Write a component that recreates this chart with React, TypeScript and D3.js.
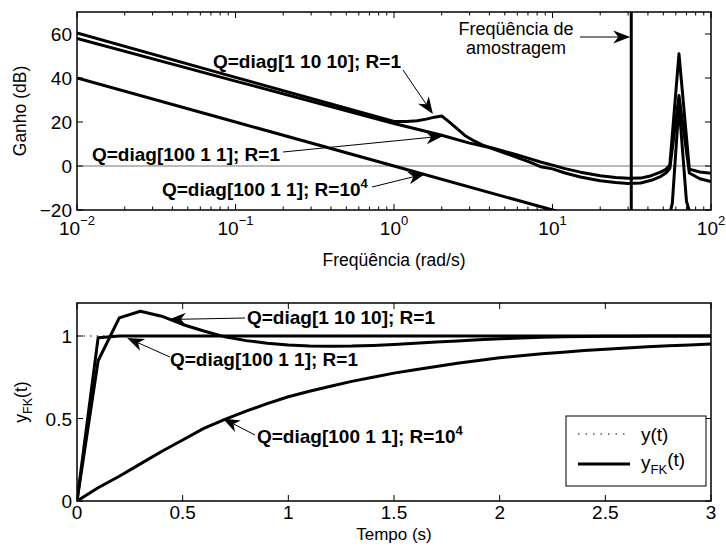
import React from 'react';
import * as d3 from 'd3';

// ---------- Data: Bode magnitude (top) ----------
const freqA = [0.01, 0.1, 1, 1.2, 1.4, 1.6, 1.8, 2.0, 2.2, 2.5, 2.8, 3.2, 3.6, 4, 5, 6, 7, 8.4, 10, 12, 15, 20, 25, 30, 36, 42, 48, 52, 55, 62.8, 73, 85, 100];
const gainA = [60.5, 40.3, 20.2, 20.2, 20.6, 21.3, 22.2, 22.7, 20.4, 17, 13.9, 11.4, 9.6, 8.5, 6.6, 5.0, 3.6, 1.8, 0.4, -1.2, -2.8, -4.4, -5.2, -5.6, -5.5, -4.4, -2.8, -1.5, 0.5, 51, -1.4, -2.7, -3.3];

const freqB = [0.01, 0.1, 1, 2, 3, 4, 5, 6, 7, 8.4, 10, 12, 15, 20, 25, 30, 36, 42, 48, 52, 55, 62.8, 73, 85, 100];
const gainB = [58, 38.6, 19.3, 14, 10.4, 8.4, 5.9, 3.8, 2.1, -0.3, -1.3, -3.2, -5.0, -6.7, -7.5, -7.9, -7.7, -6.5, -4.8, -3.2, -1.0, 32, -3.2, -5.8, -7.1];

const freqC = [0.01, 0.1, 1, 10, 20, 50, 57, 62.8, 70, 80, 100];
const gainC = [40, 20, 0, -20, -26, -34, -17, 28, -16, -30, -36];

const samplingFreq = 31.4;
const topYTicks = [-20, 0, 20, 40, 60];
const topXTicks = [0.01, 0.1, 1, 10, 100];
const topXTickExp = ['−2', '−1', '0', '1', '2'];

// ---------- Data: step responses (bottom) ----------
const time = [0, 0.1, 0.2, 0.3, 0.4, 0.5, 0.6, 0.7, 0.8, 0.9, 1.0, 1.1, 1.2, 1.3, 1.4, 1.5, 1.6, 1.7, 1.8, 1.9, 2.0, 2.1, 2.2, 2.3, 2.4, 2.5, 2.6, 2.7, 2.8, 2.9, 3.0];
const yQ1 = [0, 0.85, 1.11, 1.15, 1.12, 1.07, 1.03, 0.995, 0.972, 0.956, 0.946, 0.94, 0.938, 0.939, 0.943, 0.949, 0.956, 0.963, 0.97, 0.977, 0.983, 0.988, 0.992, 0.995, 0.997, 0.998, 0.999, 1.0, 1.0, 1.0, 1.0];
const yQ2 = [0, 0.99, 1, 1, 1, 1, 1, 1, 1, 1, 1, 1, 1, 1, 1, 1, 1, 1, 1, 1, 1, 1, 1, 1, 1, 1, 1, 1, 1, 1, 1];
const yQ3 = [0, 0.08, 0.15, 0.225, 0.3, 0.37, 0.44, 0.495, 0.545, 0.59, 0.632, 0.665, 0.695, 0.725, 0.75, 0.775, 0.795, 0.815, 0.835, 0.852, 0.868, 0.88, 0.892, 0.902, 0.912, 0.92, 0.928, 0.935, 0.941, 0.946, 0.951];
const refTime = [0, 3];
const refY = [1, 1];
const botXTicks = [0, 0.5, 1, 1.5, 2, 2.5, 3];
const botYTicks = [0, 0.5, 1];

const FONT = "Arial, 'Liberation Sans', Helvetica, sans-serif";

const xTop = d3.scaleLog().domain([0.01, 100]).range([77, 711]);
const yTop = d3.scaleLinear().domain([-20, 70]).range([210, 12]);
const xBot = d3.scaleLinear().domain([0, 3]).range([77, 711]);
const yBot = d3.scaleLinear().domain([0, 1.2]).range([501, 303]);

function Arrow({ x1, y1, x2, y2 }: { x1: number; y1: number; x2: number; y2: number }) {
  const ang = Math.atan2(y2 - y1, x2 - x1);
  const L = 17, hw = 6.5, notch = 12;
  const rot = (px: number, py: number) => [
    x2 + px * Math.cos(ang) - py * Math.sin(ang),
    y2 + px * Math.sin(ang) + py * Math.cos(ang),
  ];
  const p = [rot(0, 0), rot(-L, -hw), rot(-notch, 0), rot(-L, hw)];
  const n = rot(-notch, 0);
  return (
    <g>
      <line x1={x1} y1={y1} x2={n[0]} y2={n[1]} stroke="#000" strokeWidth={1} />
      <path d={`M${p.map((q) => q.join(',')).join('L')}Z`} fill="#000" />
    </g>
  );
}

export default function App() {
  const lineTop = (fs: number[], gs: number[]) =>
    d3.line<number>().x((_, i) => xTop(fs[i])).y((_, i) => yTop(gs[i])).curve(d3.curveLinear)(fs) || '';
  const lineBot = (ts: number[], ys: number[]) =>
    d3.line<number>().x((_, i) => xBot(ts[i])).y((_, i) => yBot(ys[i])).curve(d3.curveLinear)(ts) || '';

  const [tx0, tx1] = xTop.range();
  const [ty0, ty1] = yTop.range();
  const [bx0, bx1] = xBot.range();
  const [by0, by1] = yBot.range();

  const minorTicks: number[] = [];
  for (let e = -2; e < 2; e++) for (let k = 2; k <= 9; k++) minorTicks.push(k * Math.pow(10, e));

  const tickFs = 19;
  const labFs = 17.5;
  const annFs = 19;
  const txtFs = 18;

  return (
    <svg width={726} height={552} style={{ position: 'absolute', left: 0, top: 0, background: '#fff' }} fontFamily={FONT}>
      <defs>
        <clipPath id="clipTop"><rect x={tx0} y={ty1} width={tx1 - tx0} height={ty0 - ty1} /></clipPath>
        <clipPath id="clipBot"><rect x={bx0} y={by1} width={bx1 - bx0} height={by0 - by1} /></clipPath>
      </defs>
      <rect width={726} height={552} fill="#fff" />

      {/* ===== TOP PLOT ===== */}
      <line x1={tx0} x2={tx1} y1={yTop(0)} y2={yTop(0)} stroke="#777" strokeWidth={1.2} />
      <g clipPath="url(#clipTop)" fill="none" stroke="#000" strokeWidth={3} strokeLinejoin="round">
        <path d={lineTop(freqA, gainA)} />
        <path d={lineTop(freqB, gainB)} />
        <path d={lineTop(freqC, gainC)} />
      </g>
      <line x1={xTop(samplingFreq)} x2={xTop(samplingFreq)} y1={ty1} y2={ty0} stroke="#000" strokeWidth={3} />
      <g stroke="#000" strokeWidth={1}>
        {topXTicks.map((t) => (
          <g key={'mx' + t}>
            <line x1={xTop(t)} x2={xTop(t)} y1={ty0} y2={ty0 - 6} />
            <line x1={xTop(t)} x2={xTop(t)} y1={ty1} y2={ty1 + 6} />
          </g>
        ))}
        {minorTicks.map((t) => (
          <g key={'mn' + t}>
            <line x1={xTop(t)} x2={xTop(t)} y1={ty0} y2={ty0 - 3.5} />
            <line x1={xTop(t)} x2={xTop(t)} y1={ty1} y2={ty1 + 3.5} />
          </g>
        ))}
        {topYTicks.map((t) => (
          <g key={'ty' + t}>
            <line x1={tx0} x2={tx0 + 6} y1={yTop(t)} y2={yTop(t)} />
            <line x1={tx1} x2={tx1 - 6} y1={yTop(t)} y2={yTop(t)} />
          </g>
        ))}
      </g>
      <rect x={tx0} y={ty1} width={tx1 - tx0} height={ty0 - ty1} fill="none" stroke="#000" strokeWidth={1.5} />
      {topYTicks.map((t) => (
        <text key={'tyl' + t} x={tx0 - 5} y={yTop(t) + 7} fontSize={tickFs} textAnchor="end">{t < 0 ? '−' + Math.abs(t) : t}</text>
      ))}
      {topXTicks.map((t, i) => (
        <text key={'txl' + t} x={xTop(t)} y={235} fontSize={tickFs} textAnchor="middle">
          10<tspan dy={-10} fontSize={13}>{topXTickExp[i]}</tspan>
        </text>
      ))}
      <text x={(tx0 + tx1) / 2} y={266} fontSize={labFs} textAnchor="middle">Freqüência (rad/s)</text>
      <text transform={`translate(26,${(ty0 + ty1) / 2}) rotate(-90)`} fontSize={labFs} textAnchor="middle">Ganho (dB)</text>

      <g fontSize={annFs} fontWeight="bold">
        <text x={213} y={68}>Q=diag[1 10 10]; R=1</text>
        <text x={92} y={161}>Q=diag[100 1 1]; R=1</text>
        <text x={162} y={196}>Q=diag[100 1 1]; R=10<tspan dy={-8} fontSize={13}>4</tspan></text>
      </g>
      <Arrow x1={403} y1={70} x2={xTop(1.76)} y2={yTop(23.6)} />
      <Arrow x1={283} y1={152} x2={xTop(2.04)} y2={yTop(13.6)} />
      <Arrow x1={372} y1={187} x2={xTop(1.57)} y2={yTop(-3.6)} />
      <g fontSize={txtFs} textAnchor="middle">
        <text x={516} y={35}>Freqüência de</text>
        <text x={516} y={54}>amostragem</text>
      </g>
      <Arrow x1={580} y1={37} x2={xTop(samplingFreq) - 1} y2={37} />

      {/* ===== BOTTOM PLOT ===== */}
      <g clipPath="url(#clipBot)" fill="none" stroke="#000" strokeLinejoin="round">
        <path d={lineBot(refTime, refY)} strokeWidth={1.2} strokeDasharray="1.5,5" />
        <path d={lineBot(time, yQ1)} strokeWidth={3} />
        <path d={lineBot(time, yQ2)} strokeWidth={3} />
        <path d={lineBot(time, yQ3)} strokeWidth={3} />
      </g>
      <g stroke="#000" strokeWidth={1}>
        {botXTicks.map((t) => (
          <g key={'bx' + t}>
            <line x1={xBot(t)} x2={xBot(t)} y1={by0} y2={by0 - 6} />
            <line x1={xBot(t)} x2={xBot(t)} y1={by1} y2={by1 + 6} />
          </g>
        ))}
        {botYTicks.map((t) => (
          <g key={'by' + t}>
            <line x1={bx0} x2={bx0 + 6} y1={yBot(t)} y2={yBot(t)} />
            <line x1={bx1} x2={bx1 - 6} y1={yBot(t)} y2={yBot(t)} />
          </g>
        ))}
      </g>
      <rect x={bx0} y={by1} width={bx1 - bx0} height={by0 - by1} fill="none" stroke="#000" strokeWidth={1.5} />
      {botYTicks.map((t) => (
        <text key={'byl' + t} x={bx0 - 5} y={yBot(t) + 7} fontSize={tickFs} textAnchor="end">{t}</text>
      ))}
      {botXTicks.map((t) => (
        <text key={'bxl' + t} x={xBot(t)} y={519} fontSize={tickFs} textAnchor="middle">{t}</text>
      ))}
      <text x={(bx0 + bx1) / 2} y={539.5} fontSize={17} textAnchor="middle">Tempo (s)</text>
      <text transform={`translate(27,${(by0 + by1) / 2}) rotate(-90)`} fontSize={labFs} textAnchor="middle">
        y<tspan dy={5} fontSize={12.5}>FK</tspan><tspan dy={-5}>(t)</tspan>
      </text>

      <g fontSize={annFs} fontWeight="bold">
        <text x={247} y={324}>Q=diag[1 10 10]; R=1</text>
        <text x={170} y={366}>Q=diag[100 1 1]; R=1</text>
        <text x={257} y={443}>Q=diag[100 1 1]; R=10<tspan dy={-8} fontSize={13}>4</tspan></text>
      </g>
      <Arrow x1={245} y1={318} x2={xBot(0.435)} y2={yBot(1.1)} />
      <Arrow x1={170} y1={357} x2={xBot(0.237)} y2={yBot(0.988)} />
      <Arrow x1={255} y1={435} x2={xBot(0.69)} y2={yBot(0.5)} />

      <rect x={566} y={416} width={140} height={70} fill="#fff" stroke="#000" strokeWidth={1} />
      <line x1={578} x2={630} y1={434} y2={434} stroke="#000" strokeWidth={1.2} strokeDasharray="1.5,6" />
      <line x1={578} x2={630} y1={464} y2={464} stroke="#000" strokeWidth={3} />
      <text x={641} y={441} fontSize={tickFs}>y(t)</text>
      <text x={641} y={469} fontSize={tickFs}>y<tspan dy={5} fontSize={13}>FK</tspan><tspan dy={-8}>(t)</tspan></text>
    </svg>
  );
}
